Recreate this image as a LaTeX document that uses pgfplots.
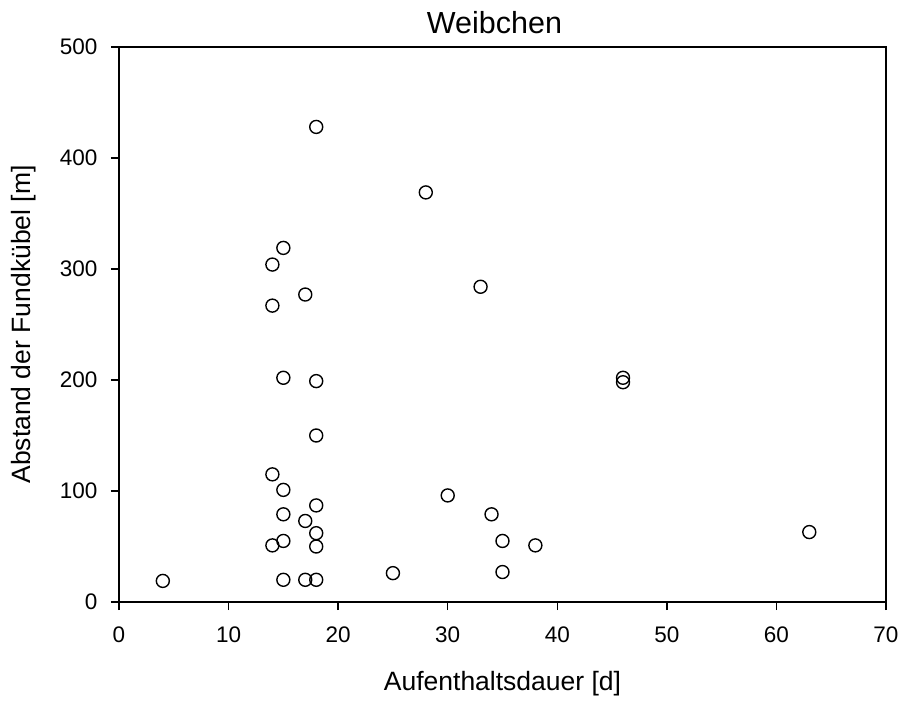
\documentclass[border=0pt]{standalone}
\usepackage{fontspec}
\setmainfont{Liberation Sans}
\usepackage{pgfplots}
\pgfplotsset{compat=1.18}
\begin{document}
\begin{tikzpicture}
\useasboundingbox (-119pt,-102pt) rectangle (784pt,602pt);
\begin{axis}[
  scale only axis,
  width=767pt, height=555pt,
  xmin=0, xmax=70, ymin=0, ymax=500,
  xtick={0,10,...,70}, ytick={0,100,...,500},
  tick align=outside,
  major tick length=8pt,
  tick style={line width=1.3pt, black},
  axis line style={line width=1.6pt},
  xtick pos=bottom, ytick pos=left,
  /pgf/number format/assume math mode=true,
  ticklabel style={font=\fontsize{22.5}{27}\selectfont},
  xticklabel style={yshift=-13pt},
  yticklabel style={xshift=-10pt},
  label style={font=\fontsize{26.5}{31}\selectfont},
  xlabel={Aufenthaltsdauer [d]},
  ylabel={Abstand der Fundkübel [m]},
  xlabel style={yshift=-22pt},
  ylabel style={yshift=17pt},
  title={Weibchen},
  title style={font=\fontsize{30.5}{36}\selectfont, yshift=4pt, xshift=-8pt},
  clip=false,
]
\addplot[only marks, mark=o, mark size=6.5pt, line width=1.4pt, black] coordinates {
(4,19) (14,115) (15,101) (15,79) (18,87) (17,73) (18,62) (18,50) (14,51) (15,55)
(15,20) (17,20) (18,20) (18,428) (15,319) (14,304) (17,277) (14,267) (15,202) (18,199)
(18,150) (28,369) (33,284) (30,96) (34,79) (35,55) (35,27) (38,51) (25,26) (46,202)
(46,198) (63,63)
};
\end{axis}
\end{tikzpicture}
\end{document}
